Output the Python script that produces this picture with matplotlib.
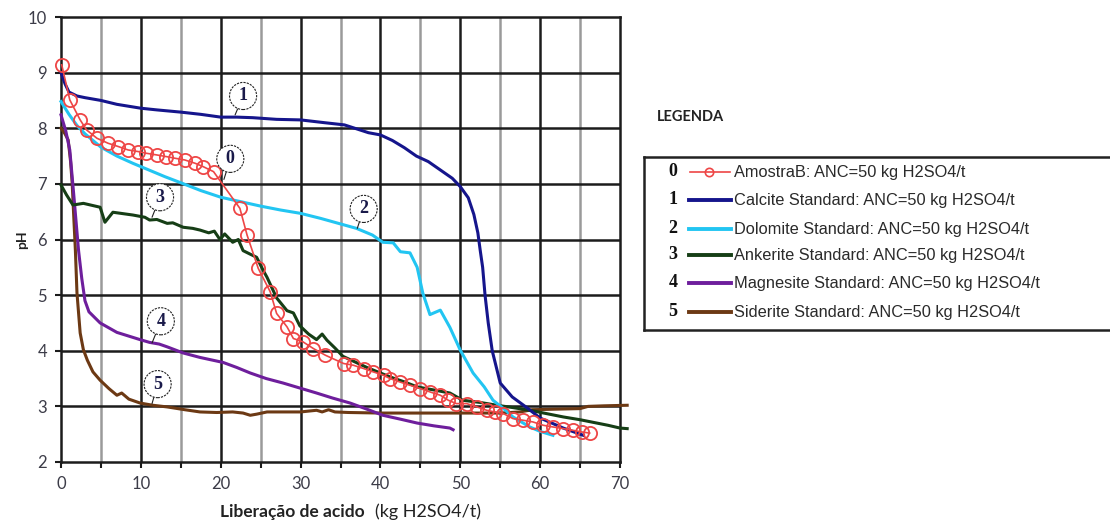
import matplotlib
matplotlib.use("Agg")
import matplotlib.pyplot as plt
from matplotlib.lines import Line2D

# ---------------- data ----------------
x0 = [0.09, 1.1, 2.4, 3.2, 4.5, 5.9, 7.2, 8.4, 9.7, 10.7, 12.0, 13.2, 14.3, 15.5, 16.8, 17.8, 19.1,
      22.4, 23.3, 24.7, 26.2, 27.0, 28.3, 29.1, 30.3, 31.6, 33.1, 35.4, 36.6, 37.9, 39.1, 40.4, 41.2,
      42.4, 43.7, 45.0, 46.2, 47.5, 48.5, 49.5, 50.8, 52.1, 53.3, 54.3, 55.4, 56.6, 57.9, 59.1, 60.4,
      61.6, 62.9, 64.1, 65.2, 66.2]
y0 = [9.14, 8.51, 8.15, 7.97, 7.82, 7.73, 7.67, 7.61, 7.58, 7.55, 7.52, 7.49, 7.46, 7.43, 7.37, 7.31, 7.22,
      6.56, 6.08, 5.48, 5.06, 4.67, 4.43, 4.22, 4.16, 4.04, 3.92, 3.77, 3.74, 3.68, 3.62, 3.56, 3.50,
      3.44, 3.38, 3.32, 3.26, 3.20, 3.11, 3.05, 3.05, 2.99, 2.93, 2.90, 2.87, 2.78, 2.75, 2.72, 2.66,
      2.63, 2.60, 2.57, 2.54, 2.52]

x1 = [0, 0.5, 1, 2, 3, 5, 7, 10, 12, 15, 17.5, 20, 22, 24, 27, 30, 33, 35.5, 37, 38.5, 40, 41.5, 43,
      44.5, 46, 47.5, 49, 50, 51, 51.7, 52.2, 52.5, 52.8, 53.1, 53.5, 54, 55, 56.5, 58.4, 60, 62.9, 65.4]
y1 = [9.0, 8.8, 8.65, 8.58, 8.55, 8.5, 8.43, 8.36, 8.33, 8.29, 8.25, 8.2, 8.2, 8.19, 8.16, 8.15, 8.1,
      8.06, 7.99, 7.92, 7.88, 7.78, 7.65, 7.5, 7.4, 7.25, 7.1, 6.95, 6.75, 6.45, 6.12, 5.8, 5.5, 5.0,
      4.5, 4.0, 3.42, 3.17, 2.97, 2.79, 2.61, 2.48]

x2 = [0, 1, 2, 3, 5, 7, 9, 11, 13, 15, 17.5, 20, 22.5, 25, 27.5, 30, 32.5, 35, 37, 39, 40.3, 41.6,
      42.5, 43.7, 44.6, 45.3, 46.2, 47.5, 48.7, 50, 51.6, 53, 54.1, 55.5, 56.6, 58.7, 60, 61.6]
y2 = [8.48, 8.25, 8.05, 7.9, 7.66, 7.5, 7.37, 7.25, 7.13, 7.02, 6.88, 6.76, 6.68, 6.6, 6.53, 6.47,
      6.38, 6.28, 6.2, 6.08, 5.95, 5.94, 5.78, 5.76, 5.5, 5.04, 4.65, 4.73, 4.42, 4.01, 3.6, 3.35,
      3.11, 2.95, 2.81, 2.63, 2.55, 2.48]

x3 = [0, 0.7, 1.5, 2.8, 4.9, 5.5, 6.5, 8, 9, 10.5, 11.1, 12, 13.3, 14, 15.3, 16.5, 17.4, 18.5, 19.2,
      19.9, 20.5, 21.5, 22.2, 22.8, 23.5, 24.5, 25.3, 25.8, 27, 28.3, 29.1, 29.9, 31, 32, 32.7, 33.3,
      34.3, 35.3, 36.5, 38.3, 40, 41.2, 43, 44.6, 46.5, 48.7, 50.3, 52.5, 54.6, 56.5, 58.7, 60.8,
      62.9, 65, 67.1, 68.5, 70, 70.9]
y3 = [6.98, 6.8, 6.62, 6.65, 6.58, 6.31, 6.49, 6.46, 6.44, 6.4, 6.35, 6.36, 6.29, 6.3, 6.22, 6.2,
      6.17, 6.12, 6.15, 6.0, 6.1, 5.95, 6.0, 5.8, 5.75, 5.68, 5.45, 5.32, 4.95, 4.72, 4.68, 4.45, 4.3,
      4.2, 4.3, 4.19, 4.05, 3.9, 3.82, 3.7, 3.6, 3.53, 3.44, 3.35, 3.3, 3.24, 3.11, 3.07, 3.02, 2.98,
      2.93, 2.87, 2.81, 2.76, 2.7, 2.66, 2.61, 2.6]

x4 = [0, 0.6, 1.1, 1.6, 2.2, 2.6, 3.0, 3.5, 4.9, 7, 9.9, 11.1, 12.3, 13.3, 15.3, 17.4, 20.3, 22,
      23.7, 25.7, 27.8, 29.9, 32, 34, 36.2, 38.3, 40.3, 42.5, 44.6, 46.7, 48.7, 49.1]
y4 = [8.24, 7.95, 7.61, 6.8, 5.8, 5.3, 4.9, 4.7, 4.5, 4.33, 4.2, 4.15, 4.12, 4.07, 3.96, 3.88, 3.79,
      3.7, 3.6, 3.5, 3.42, 3.33, 3.24, 3.15, 3.06, 2.95, 2.84, 2.77, 2.7, 2.65, 2.61, 2.58]

x5 = [0, 0.5, 0.9, 1.2, 1.4, 1.6, 1.8, 2, 2.4, 2.8, 3.3, 4, 4.9, 6, 7, 7.6, 8.5, 9.9, 11.5, 13.3,
      15.5, 17.4, 19.5, 21.5, 22.8, 23.7, 24.5, 25.8, 28, 30, 32, 32.7, 33.5, 34.3, 36, 40, 45, 50,
      55, 57.5, 59, 62, 65, 66, 68, 70.9]
y5 = [8.0, 7.9, 7.79, 7.4, 7.01, 6.4, 5.81, 5.04, 4.32, 4.02, 3.83, 3.62, 3.47, 3.32, 3.2, 3.24, 3.13,
      3.06, 3.02, 2.99, 2.94, 2.9, 2.89, 2.9, 2.88, 2.84, 2.86, 2.9, 2.9, 2.9, 2.93, 2.9, 2.94, 2.9,
      2.89, 2.88, 2.88, 2.88, 2.88, 2.9, 2.94, 2.95, 2.96, 3.0, 3.01, 3.02]

series_numbers = ["0", "1", "2", "3", "4", "5"]
series_labels = ["AmostraB: ANC=50 kg H2SO4/t",
                 "Calcite Standard: ANC=50 kg H2SO4/t",
                 "Dolomite Standard: ANC=50 kg H2SO4/t",
                 "Ankerite Standard: ANC=50 kg H2SO4/t",
                 "Magnesite Standard: ANC=50 kg H2SO4/t",
                 "Siderite Standard: ANC=50 kg H2SO4/t"]
x_ticks = [0, 10, 20, 30, 40, 50, 60, 70]
y_ticks = [2, 3, 4, 5, 6, 7, 8, 9, 10]

# ---------------- style ----------------
colors = ["#EE4646", "#15158C", "#22C5F2", "#163E16", "#6E1E9C", "#6C3914"]
tick_color = "#3c3c48"

fig = plt.figure(figsize=(11.10, 5.21), dpi=100)
ax = fig.add_axes([61 / 1110, 1 - 462 / 521, (620 - 61) / 1110, (462 - 17) / 521])

ax.set_xlim(0, 70)
ax.set_ylim(2, 10)

# grid
for xv in range(5, 70, 10):
    ax.axvline(xv, color="#9a9a9a", lw=1.8, zorder=1)
for xv in range(10, 70, 10):
    ax.axvline(xv, color="#1c1c1c", lw=1.8, zorder=1.1)
for yv in range(3, 10):
    ax.axhline(yv, color="#1c1c1c", lw=1.8, zorder=1.1)

for sp in ax.spines.values():
    sp.set_color("#1c1c1c")
    sp.set_linewidth(1.8)

ax.set_xticks(x_ticks)
ax.set_xticks([5, 15, 25, 35, 45, 55, 65], minor=True)
ax.set_yticks(y_ticks)
ax.tick_params(axis="both", which="both", direction="out", length=4, width=1.5, color="#1c1c1c")
ax.tick_params(axis="x", which="major", pad=6, labelsize=12, labelcolor=tick_color)
ax.tick_params(axis="y", which="major", pad=6, labelsize=12, labelcolor=tick_color)
for lab in ax.get_xticklabels() + ax.get_yticklabels():
    lab.set_fontfamily("Lato")

# curves
lw = 2.2
ax.plot(x5, y5, color=colors[5], lw=lw, zorder=3, clip_on=False)
ax.plot(x4, y4, color=colors[4], lw=lw, zorder=3, clip_on=False)
ax.plot(x3, y3, color=colors[3], lw=lw, zorder=3, clip_on=False)
ax.plot(x2, y2, color=colors[2], lw=lw, zorder=3, clip_on=False)
ax.plot(x1, y1, color=colors[1], lw=lw, zorder=3, clip_on=False)
ax.plot(x0, y0, color=colors[0], lw=1.2, marker="o", ms=9.5, mfc="none", mec=colors[0],
        mew=1.3, zorder=4, clip_on=False)

# speech-bubble labels (text position, pointed location)
bubbles = [("1", (22.8, 8.58), (21.8, 8.24)),
           ("0", (21.2, 7.45), (20.4, 7.08)),
           ("2", (37.9, 6.55), (37.1, 6.2)),
           ("3", (12.4, 6.76), (11.4, 6.4)),
           ("4", (12.5, 4.53), (11.4, 4.14)),
           ("5", (12.1, 3.40), (11.4, 3.05))]
for num, txt_pos, tip in bubbles:
    ax.annotate(num, xy=tip, xytext=txt_pos, ha="center", va="center",
                fontsize=13, fontweight="bold", family="Liberation Serif", color="#1a1a4a",
                bbox=dict(boxstyle="circle,pad=0.28", fc="white", ec="#222222", lw=0.8,
                          ls=(0, (2, 1))),
                arrowprops=dict(arrowstyle="-", color="#222222", lw=0.8, shrinkA=0, shrinkB=0),
                zorder=6)

# axis labels
fig.text(22 / 1110, 1 - 240 / 521, "pH", rotation=90, ha="center", va="center",
         fontsize=10, fontweight="bold", family="Lato", color="#222222")
fig.text(220 / 1110, 1 - 512 / 521, "Liberação de acido", ha="left", va="center",
         fontsize=12.5, fontweight="bold", family="Lato", color="#222222")
fig.text(375 / 1110, 1 - 512 / 521, "(kg H2SO4/t)", ha="left", va="center",
         fontsize=13, family="Lato", color="#222222")

# legend
fig.text(657 / 1110, 1 - 117 / 521, "LEGENDA", ha="left", va="center",
         fontsize=10.5, fontweight="bold", family="Lato", color="#222222")

lax = fig.add_axes([644 / 1110, 1 - 330 / 521, (1120 - 644) / 1110, (330 - 157) / 521])
lax.set_xlim(644, 1120)
lax.set_ylim(330, 157)
lax.set_xticks([])
lax.set_yticks([])
for sp in lax.spines.values():
    sp.set_color("#222222")
    sp.set_linewidth(1.8)

row_y = [172, 200, 229, 255, 283, 312]
for i in range(6):
    yy = row_y[i]
    lax.text(673, yy - 1, series_numbers[i], ha="center", va="center", fontsize=13,
             fontweight="bold", family="Liberation Serif", color="#111111")
    if i == 0:
        lax.add_line(Line2D([690, 730], [yy, yy], color=colors[0], lw=1.2))
        lax.add_line(Line2D([709], [yy], color=colors[0], marker="o", ms=6, mfc="none",
                            mec=colors[0], mew=1.2))
    else:
        lax.add_line(Line2D([689, 731], [yy, yy], color=colors[i], lw=2.8))
    lax.text(734, yy, series_labels[i], ha="left", va="center", fontsize=11.8,
             family="Liberation Sans", color="#2a2a2a")

fig.savefig("out.png", dpi=100)
